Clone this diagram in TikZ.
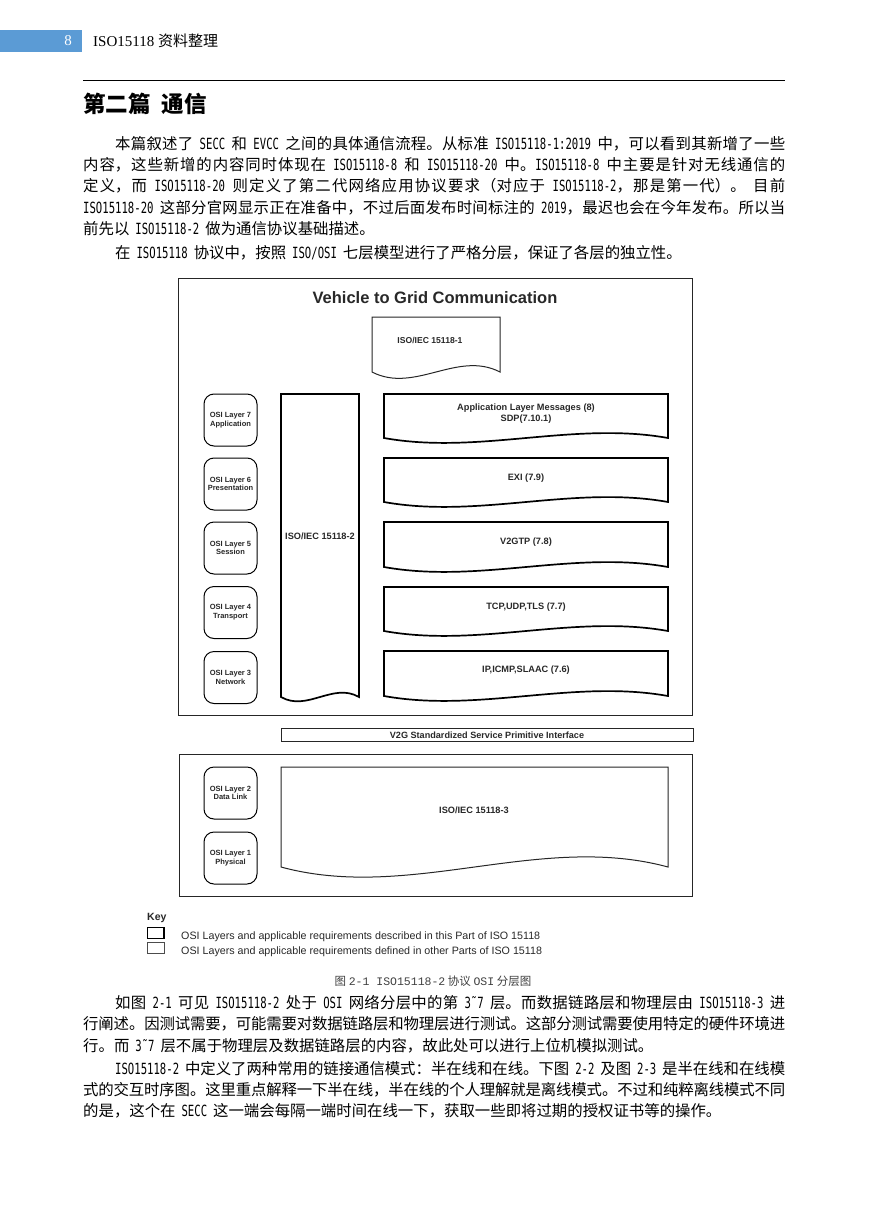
\documentclass[tikz,border=0pt]{standalone}
\usepackage{fontspec}
\setmainfont{Liberation Serif}
\newfontfamily\cjk{Noto Sans CJK SC}
\newfontfamily\latn{DejaVu Sans Mono}[FakeStretch=0.69]
\newfontfamily\capmono{Liberation Mono}
\newfontfamily\arialf{Liberation Sans}
\XeTeXlinebreaklocale "zh"
\XeTeXlinebreakskip=0pt plus 3pt minus 0.5pt
\definecolor{hdrblue}{RGB}{91,155,213}
\definecolor{dtext}{RGB}{40,40,40}
\newcommand\docpath[5]{(#1,#4) -- (#1,#2) -- (#3,#2) -- (#3,#4) .. controls ({#1+2*(#3-#1)/3},{#4-#5}) and ({#1+(#3-#1)/3},{#4+#5}) .. cycle}
\newcommand\bsp{\spaceskip=6pt plus 4pt minus 1pt\relax}
\newcommand\jl[2]{\parbox[t]{#1pt}{\bsp\parfillskip=0pt\tolerance=10000\relax #2}}
\newcommand\nl[1]{\hbox{\bsp #1}}
\newcommand\E[1]{{\latn #1}}
\tikzset{
  body/.style={anchor=base west, inner sep=0pt, font=\cjk\fontsize{15.4}{19}\selectfont},
  outerframe/.style={draw=black!85, line width=0.9},
  layerbox/.style={draw=black, line width=1.0, rounded corners=10, minimum width=53, minimum height=52,
     align=center, inner sep=0pt, text=dtext, font=\arialf\bfseries\fontsize{7.5}{8.8}\selectfont},
  docthick/.style={draw=black, line width=1.7},
  docthin/.style={draw=black!85, line width=1.0},
  dlabel/.style={inner sep=0pt, align=center, text=dtext, font=\arialf\bfseries\fontsize{9.2}{11}\selectfont},
  keytext/.style={anchor=west, inner sep=0pt, text=dtext, font=\arialf\fontsize{10.7}{12}\selectfont},
}
\begin{document}
\begin{tikzpicture}[x=1pt,y=-1pt]
\useasboundingbox (0,0) rectangle (869,1228);
\fill[white] (0,0) rectangle (869,1228);

% header
\fill[hdrblue] (0,30) rectangle (82,52);
\node[inner sep=0pt, text=white, font=\fontsize{15}{18}\selectfont] (pgnum) at (68,41) {8};
\node[anchor=west, inner sep=0pt, font=\fontsize{15}{18}\selectfont] (hdr) at (93,41) {ISO15118 {\cjk 资料整理}};
\draw[line width=1] (83,81) -- (785,81);

% title
\node[anchor=west, inner sep=0pt, font=\cjk\bfseries\fontsize{22.5}{26}\selectfont] (chap) at (83,104) {第二篇\hspace{0.5em}通信};

% paragraph 1
\node[body] (p1) at (115,149.5) {\jl{670}{本篇叙述了 \E{SECC} 和 \E{EVCC} 之间的具体通信流程。从标准 \E{ISO15118-1:2019} 中，可以看到其新增了一些}};
\node[body] (p2) at (83,170.5) {\jl{702}{内容，这些新增的内容同时体现在 \E{ISO15118-8} 和 \E{ISO15118-20} 中。\E{ISO15118-8} 中主要是针对无线通信的}};
\node[body] (p3) at (83,191.5) {\jl{702}{定义，而 \E{ISO15118-20} 则定义了第二代网络应用协议要求（对应于 \E{ISO15118-2}，那是第一代）。 目前}};
\node[body] (p4) at (83,213) {\jl{702}{\E{ISO15118-20} 这部分官网显示正在准备中，不过后面发布时间标注的 \E{2019}，最迟也会在今年发布。所以当}};
\node[body] (p5) at (83,234) {\nl{前先以 \E{ISO15118-2} 做为通信协议基础描述。}};
\node[body] (p6) at (115,258) {\nl{在 \E{ISO15118} 协议中，按照 \E{ISO/OSI} 七层模型进行了严格分层，保证了各层的独立性。}};

% diagram frames
\draw[outerframe] (178,278) rectangle (692,715);
\draw[outerframe] (179,754) rectangle (692,896);
\node[inner sep=0pt, text=dtext, font=\arialf\bfseries\fontsize{16.5}{19}\selectfont] (title) at (435,298) {Vehicle to Grid Communication};

% ISO 15118-1
\draw[docthin] \docpath{372}{317}{500}{372}{22};
\node[dlabel, font=\arialf\bfseries\fontsize{8.6}{10}\selectfont] (iso1) at (430,340) {ISO/IEC 15118-1};

% layer boxes
\node[layerbox] (l7) at (230.5,420) {OSI Layer 7\\Application};
\node[layerbox] (l6) at (230.5,484) {OSI Layer 6\\Presentation};
\node[layerbox] (l5) at (230.5,548) {OSI Layer 5\\Session};
\node[layerbox] (l4) at (230.5,612.5) {OSI Layer 4\\Transport};
\node[layerbox] (l3) at (230.5,677.5) {OSI Layer 3\\Network};
\node[layerbox] (l2) at (230.5,793) {OSI Layer 2\\Data Link};
\node[layerbox] (l1) at (230.5,858) {OSI Layer 1\\Physical};

% ISO 15118-2 tall document
\draw[docthick] \docpath{281}{394}{359}{697}{15};
\node[dlabel] (iso2) at (320,536) {ISO/IEC 15118-2};

% right documents
\draw[docthick] \docpath{384}{394}{668}{438}{17};
\draw[docthick] \docpath{384}{458}{668}{502}{17};
\draw[docthick] \docpath{384}{522}{668}{567}{17};
\draw[docthick] \docpath{384}{587}{668}{631}{17};
\draw[docthick] \docpath{384}{651}{668}{696}{17};
\node[dlabel] (app) at (526,413.5) {Application Layer Messages (8)\\SDP(7.10.1)};
\node[dlabel] (exi) at (526,478) {EXI (7.9)};
\node[dlabel] (v2gtp) at (526,542) {V2GTP (7.8)};
\node[dlabel] (tcp) at (526,607) {TCP,UDP,TLS (7.7)};
\node[dlabel] (ip) at (526,670) {IP,ICMP,SLAAC (7.6)};

% interface
\draw[docthin] (281,728) rectangle (693,741.5);
\node[dlabel, font=\arialf\bfseries\fontsize{9.1}{10}\selectfont] (sap) at (487,735) {V2G Standardized Service Primitive Interface};

% ISO 15118-3
\draw[docthin] \docpath{281}{767}{668}{867}{35};
\node[dlabel] (iso3) at (474,810) {ISO/IEC 15118-3};

% key
\node[anchor=west, inner sep=0pt, text=dtext, font=\arialf\bfseries\fontsize{10.5}{12}\selectfont] (key) at (147,918) {Key};
\draw[draw=black, line width=1.4] (147.5,927.5) rectangle (164,938.5);
\draw[draw=black!70, line width=0.9] (147.5,942.5) rectangle (164,953.5);
\node[keytext] (k1) at (181,937) {OSI Layers and applicable requirements described in this Part of ISO 15118};
\node[keytext] (k2) at (181,952) {OSI Layers and applicable requirements defined in other Parts of ISO 15118};

% caption
\node[inner sep=0pt, text=black!75, font=\cjk\fontsize{11.5}{14}\selectfont] (cap) at (433,981) {图 {\capmono 2-1 ISO15118-2} 协议 {\capmono OSI} 分层图};

% paragraph 2
\node[body] (q1) at (115,1008.5) {\jl{670}{如图 \E{2-1} 可见 \E{ISO15118-2} 处于 \E{OSI} 网络分层中的第 \E{3˜7} 层。而数据链路层和物理层由 \E{ISO15118-3} 进}};
\node[body] (q2) at (83,1029.5) {\jl{702}{行阐述。因测试需要，可能需要对数据链路层和物理层进行测试。这部分测试需要使用特定的硬件环境进}};
\node[body] (q3) at (83,1051) {\nl{行。而 \E{3˜7} 层不属于物理层及数据链路层的内容，故此处可以进行上位机模拟测试。}};
\node[body] (q4) at (115,1074) {\jl{670}{\E{ISO15118-2} 中定义了两种常用的链接通信模式：半在线和在线。下图 \E{2-2} 及图 \E{2-3} 是半在线和在线模}};
\node[body] (q5) at (83,1095) {\jl{702}{式的交互时序图。这里重点解释一下半在线，半在线的个人理解就是离线模式。不过和纯粹离线模式不同}};
\node[body] (q6) at (83,1116) {\nl{的是，这个在 \E{SECC} 这一端会每隔一端时间在线一下，获取一些即将过期的授权证书等的操作。}};
\end{tikzpicture}
\end{document}
